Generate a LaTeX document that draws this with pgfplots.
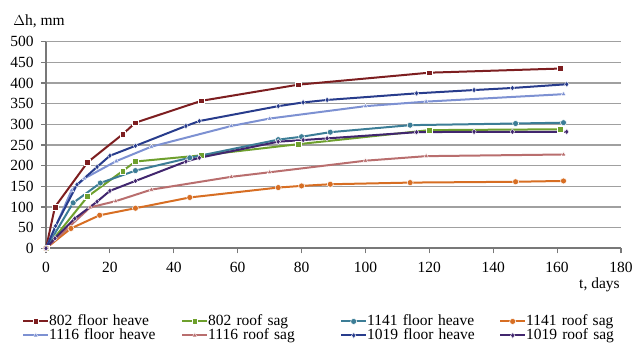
\documentclass[border=0pt]{standalone}
\usepackage{pgfplots}
\pgfplotsset{compat=1.18}
\usepackage{fontspec}
\setmainfont{Liberation Serif}
\definecolor{cA}{RGB}{125,30,32}
\definecolor{cB}{RGB}{110,160,45}
\definecolor{cC}{RGB}{60,125,150}
\definecolor{cD}{RGB}{215,110,35}
\definecolor{cE}{RGB}{125,145,210}
\definecolor{cF}{RGB}{185,110,110}
\definecolor{cG}{RGB}{40,60,140}
\definecolor{cH}{RGB}{65,38,110}
\definecolor{gridc}{RGB}{160,160,160}
\definecolor{axc}{RGB}{120,120,120}
\begin{document}
\fontsize{15.5}{17}\selectfont
\begin{tikzpicture}
\path[use as bounding box] (0,0) rectangle (635pt,344pt);
\begin{axis}[
  at={(46pt,95.7pt)}, anchor=south west,
  scale only axis, width=575pt, height=206.6pt,
  xmin=0, xmax=180, ymin=0, ymax=500,
  xtick={0,20,...,180}, ytick={0,50,...,500},
  axis x line*=bottom, axis y line*=left,
  axis line style={draw=axc, line width=1.6pt},
  tick style={draw=axc, line width=1.2pt},
  tick align=outside, major tick length=5pt,
  ymajorgrids, grid style={draw=gridc, line width=1.1pt},
  /pgf/number format/assume math mode=true,
  ticklabel style={font=\fontsize{15.5}{17}\selectfont},
  xticklabel style={yshift=-4pt},
  yticklabel style={xshift=-2pt},
  xlabel={t, days}, ylabel={$\Delta$h, mm},
  every axis x label/.style={at={(axis description cs:1.007,-0.178)}, anchor=east},
  every axis y label/.style={at={(axis description cs:-0.066,1.100)}, anchor=west},
  clip=false,
  legend columns=4,
  legend style={draw=none, at={(axis description cs:-0.047,-0.312)}, anchor=north west,
     nodes={text width=129pt, align=left, inner sep=0pt, text height=10.5pt, text depth=2.5pt}, row sep=1pt,
     /tikz/every even column/.append style={column sep=3pt}},
  legend image code/.code={\draw[#1,mark repeat=2,mark phase=2] plot coordinates {(0pt,0pt) (12.5pt,0pt) (25pt,0pt)};},
  every axis plot/.append style={line width=2pt},
]
\addplot[cA, mark=square*, mark size=2.9pt, mark options={draw=white, line width=0.5pt, fill=cA}] coordinates {
(0,0) (2.8,100) (13,208) (24,276) (28,304) (48.7,357) (79,396) (120,425) (161,435)};
\addlegendentry{802 floor heave}
\addplot[cB, mark=square*, mark size=2.9pt, mark options={draw=white, line width=0.5pt, fill=cB}] coordinates {
(0,0) (13,125) (24,187) (28,210) (48.7,225) (79,252) (120,286) (161,288)};
\addlegendentry{802 roof sag}
\addplot[cC, mark=*, mark size=3pt, mark options={draw=white, line width=0.5pt, fill=cC}] coordinates {
(0,0) (8.5,110) (17,158) (28,188) (45,219) (72.7,263) (80,270) (89,281) (114,298) (147,302) (162,304)};
\addlegendentry{1141 floor heave}
\addplot[cD, mark=*, mark size=3pt, mark options={draw=white, line width=0.5pt, fill=cD}] coordinates {
(0,0) (7.8,48) (16.8,80) (28,97) (45,123) (72.7,147) (80,151) (89,155) (114,159) (147,161) (162,163)};
\addlegendentry{1141 roof sag}
\addplot[cE, mark=triangle*, mark size=2.8pt, mark options={draw=white, line width=0.4pt, fill=cE}] coordinates {
(0,0) (8,140) (12,169) (22,211) (33,246) (58,296) (70,314) (100,344) (119,355) (162,373)};
\addlegendentry{1116 floor heave}
\addplot[cF, mark=triangle*, mark size=2.8pt, mark options={draw=white, line width=0.4pt, fill=cF}] coordinates {
(0,0) (13.8,99) (21.8,114) (33,142) (58,173) (70,184) (100,212) (119,223) (162,227)};
\addlegendentry{1116 roof sag}
\addplot[cG, mark=diamond*, mark size=2.9pt, mark options={draw=white, line width=0.4pt, fill=cG}] coordinates {
(0,0) (3,54) (9.7,154) (16,197) (20,224) (28,248) (43.8,296) (48,308) (72.7,344) (80.5,353) (88,359) (116,375) (134,383) (146,388) (163,397)};
\addlegendentry{1019 floor heave}
\addplot[cH, mark=diamond*, mark size=2.9pt, mark options={draw=white, line width=0.4pt, fill=cH}] coordinates {
(0,0) (2.8,24) (9,72) (16,113) (20,139) (28,163) (43.8,210) (48,219) (72.7,258) (80.5,262) (88,266) (116,281) (134,282) (146,282) (163,282)};
\addlegendentry{1019 roof sag}
\end{axis}
\end{tikzpicture}
\end{document}
